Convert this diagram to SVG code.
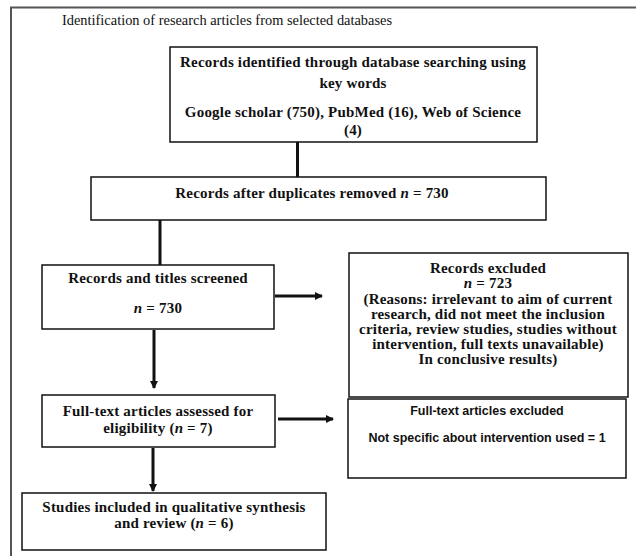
<svg xmlns="http://www.w3.org/2000/svg" width="636" height="556" viewBox="0 0 636 556">
<style>
.box{fill:#fff;stroke:#111;stroke-width:1.5}
.t{font-family:"Liberation Serif","Times New Roman",serif;font-weight:bold;font-size:15px;letter-spacing:0.2px;fill:#111;text-anchor:middle}
.s{font-family:"Liberation Sans",Arial,sans-serif;font-weight:bold;font-size:12.5px;fill:#111;text-anchor:middle}
.title{font-family:"Liberation Serif","Times New Roman",serif;font-size:14.4px;fill:#111}
.c{stroke:#111;stroke-width:3;fill:none}
</style>
<defs>
<marker id="ah" markerUnits="userSpaceOnUse" markerWidth="8" markerHeight="8" refX="7" refY="4" orient="auto">
<path d="M0,0 L8,4 L0,8 z" fill="#111"/>
</marker>
</defs>
<rect width="636" height="556" fill="#fff"/>
<path d="M11,556 V7.5 H636" fill="none" stroke="#555" stroke-width="2"/>
<text class="title" x="62" y="25">Identification of research articles from selected databases</text>
<g id="connectors">
<line class="c" x1="297.5" y1="142" x2="297.5" y2="177"/>
<line class="c" x1="160" y1="220" x2="160" y2="265"/>
<line class="c" x1="275" y1="296" x2="322" y2="296" marker-end="url(#ah)"/>
<line class="c" x1="154" y1="330" x2="154" y2="388" marker-end="url(#ah)"/>
<line class="c" x1="278" y1="419" x2="333" y2="419" marker-end="url(#ah)"/>
<line class="c" x1="153" y1="448" x2="153" y2="491" marker-end="url(#ah)"/>
</g>
<g id="n1">
<rect class="box" x="170" y="47" width="367" height="95"/>
<text class="t" x="353" y="67">Records identified through database searching using</text>
<text class="t" x="353" y="88">key words</text>
<text class="t" x="353" y="117">Google scholar (750), PubMed (16), Web of Science</text>
<text class="t" x="353" y="135">(4)</text>
</g>
<g id="n2">
<rect class="box" x="91" y="177" width="455" height="43"/>
<text class="t" x="312" y="198">Records after duplicates removed <tspan font-style="italic">n</tspan> = 730</text>
</g>
<g id="n3">
<rect class="box" x="42" y="265" width="232" height="64"/>
<text class="t" x="158" y="283">Records and titles screened</text>
<text class="t" x="158" y="313"><tspan font-style="italic">n</tspan> = 730</text>
</g>
<g id="n4">
<rect class="box" x="349" y="253" width="279" height="144"/>
<text class="t" x="488" y="273">Records excluded</text>
<text class="t" x="488" y="288"><tspan font-style="italic">n</tspan> = 723</text>
<text class="t" x="488" y="304">(Reasons: irrelevant to aim of current</text>
<text class="t" x="488" y="319">research, did not meet the inclusion</text>
<text class="t" x="488" y="334">criteria, review studies, studies without</text>
<text class="t" x="488" y="349">intervention, full texts unavailable)</text>
<text class="t" x="488" y="364">In conclusive results)</text>
</g>
<g id="n5">
<rect class="box" x="42" y="395" width="233" height="52"/>
<text class="t" x="158" y="416">Full-text articles assessed for</text>
<text class="t" x="158" y="433">eligibility  (<tspan font-style="italic">n</tspan> = 7)</text>
</g>
<g id="n6">
<rect class="box" x="348" y="399" width="278" height="79"/>
<text class="s" x="487" y="415">Full-text articles excluded</text>
<text class="s" x="487" y="442">Not specific about intervention used = 1</text>
</g>
<g id="n7">
<rect class="box" x="22" y="493" width="304" height="57"/>
<text class="t" x="174" y="512">Studies included in qualitative synthesis</text>
<text class="t" x="174" y="528">and review (<tspan font-style="italic">n</tspan> = 6)</text>
</g>
</svg>
